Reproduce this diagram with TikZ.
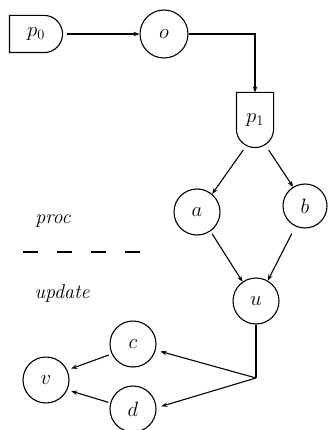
\documentclass[tikz,border=0pt]{standalone}
\usetikzlibrary{arrows.meta}
\begin{document}
\begin{tikzpicture}[x=1pt,y=-1pt,
  line width=1.1pt,
  >={Stealth[length=6pt,width=4.5pt]},
  circ/.style={circle,draw,line width=1.1pt,minimum size=46pt,inner sep=0pt,font=\fontsize{20.74}{24}\selectfont},
  procbox/.style={inner sep=0pt,font=\fontsize{20.74}{24}\selectfont},
  legend/.style={inner sep=0pt,font=\fontsize{20}{24}\selectfont\itshape},
  conn/.style={->,line width=1.1pt}]
\useasboundingbox (0,0) rectangle (327,430);

% process boxes
\node[procbox,minimum width=52pt,minimum height=36pt] (p0) at (36,34) {$p_0$};
\draw (p0.north west) -- ([xshift=-18pt]p0.north east)
  .. controls ([xshift=-8.06pt]p0.north east) and ([yshift=9.94pt]p0.east) .. (p0.east)
  .. controls ([yshift=-9.94pt]p0.east) and ([xshift=-8.06pt]p0.south east) .. ([xshift=-18pt]p0.south east)
  -- (p0.south west) -- cycle;

\node[procbox,minimum width=36pt,minimum height=54pt] (p1) at (255,120) {$p_1$};
\draw (p1.north west) -- (p1.north east) -- ([yshift=18pt]p1.south east)
  .. controls ([yshift=8.06pt]p1.south east) and ([xshift=9.94pt]p1.south) .. (p1.south)
  .. controls ([xshift=-9.94pt]p1.south) and ([yshift=8.06pt]p1.south west) .. ([yshift=18pt]p1.south west)
  -- cycle;

% circles
\node[circ,minimum size=48pt] (o) at (164,34) {$o$};
\node[circ] (a) at (197,212) {$a$};
\node[circ,minimum size=44pt] (b) at (305,206) {$b$};
\node[circ] (u) at (256,301) {$u$};
\node[circ] (c) at (133,344) {$c$};
\node[circ] (v) at (46,380) {$v$};
\node[circ] (d) at (133,409) {$d$};
\coordinate (J) at (256,378);

% connectors
\draw[conn,shorten <=4pt] (p0.east) -- (o.west);
\draw[conn] (o.east) -| (p1.north);
\draw[conn,shorten <=3pt] ([xshift=-10pt]p1.south) -- (a.50);
\draw[conn,shorten <=3pt] ([xshift=12pt]p1.south) -- (b.122);
\draw[conn,shorten <=3pt] (a.-55) -- (u.125);
\draw[conn,shorten <=8pt] (b.-115) -- (u.60);
\draw (u.south) -- (J);
\draw[conn,shorten >=5pt] (J) -- (c.-15);
\draw[conn,shorten >=5pt] (J) -- (d.3);
\draw[conn,shorten <=3pt,shorten >=4pt] (c.205) -- (v.25);
\draw[conn,shorten <=2pt,shorten >=4pt] (d.165) -- (v.-25);

% legend
\node[legend] (proc) at (53,221) {proc};
\coordinate (dl) at (23,252);
\coordinate (dr) at (140,252);
\draw[dash pattern=on 15pt off 19pt] (dl) -- (dr);
\node[legend] (upd) at (62,293) {update};
\end{tikzpicture}
\end{document}
